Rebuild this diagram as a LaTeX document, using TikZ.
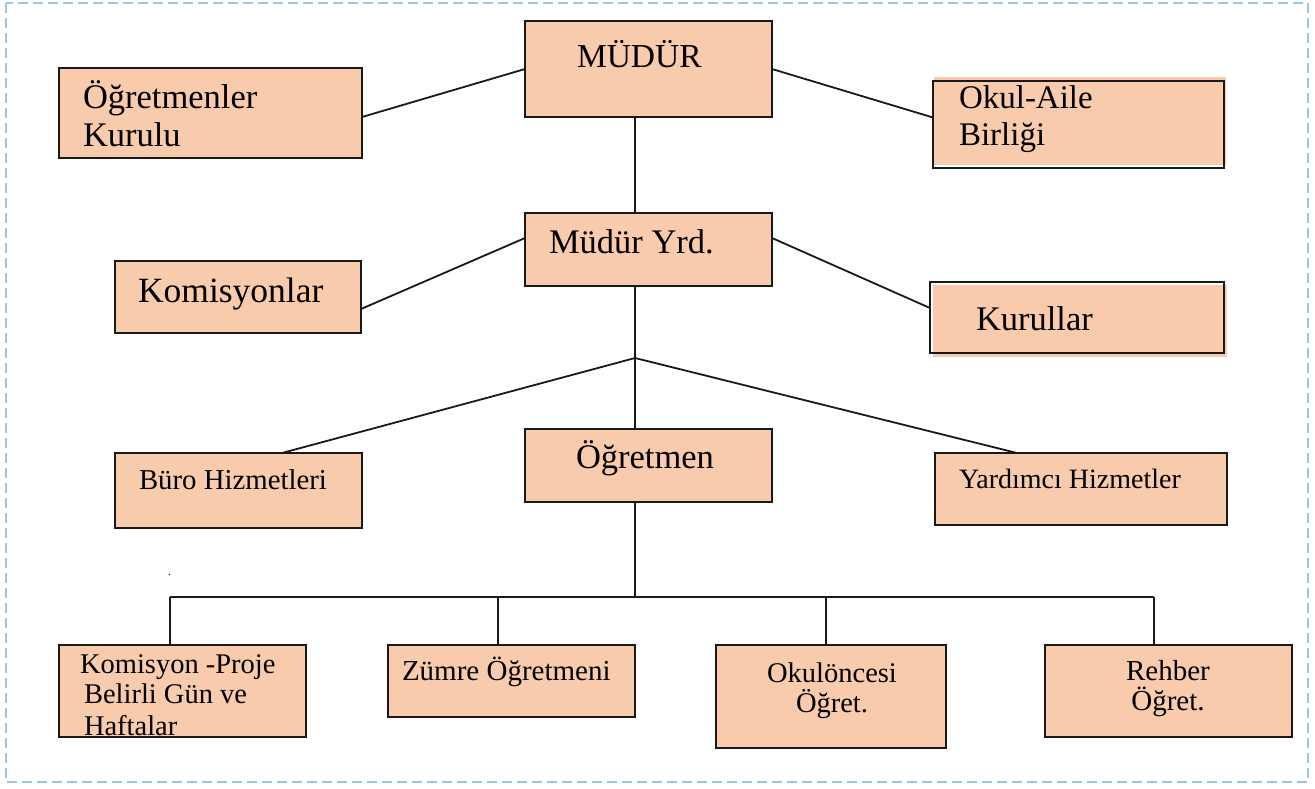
\documentclass[tikz,border=0pt]{standalone}
\usepackage{fontspec}
\setmainfont{Liberation Serif}
\usetikzlibrary{calc}
\definecolor{peach}{HTML}{F7CBAC}
\definecolor{frameblue}{HTML}{9DC3E6}
\newcommand\fsz[1]{\fontsize{#1}{#1}\selectfont}
\begin{document}
\begin{tikzpicture}[x=1pt,y=-1pt,
  orgbox/.style={draw=black!90, fill=peach, line width=2pt, inner sep=0pt, outer sep=0pt, rectangle},
  conn/.style={line width=1.8pt, black!90},
  lt/.style={anchor=base west, inner sep=0pt, outer sep=0pt},
  ct/.style={anchor=base, inner sep=0pt, outer sep=0pt},
  frame/.style={draw=frameblue, line width=2.5pt, dash pattern=on 10pt off 5pt}]
\useasboundingbox (0,0) rectangle (1315,788);
\draw[frame] (6,3) rectangle (1308,782);

% fill quirks (offset fills)
\fill[peach] (934,77) rectangle (1226,165);
\fill[peach] (933,285) rectangle (1227,357);

% boxes
\node[orgbox, minimum width=247pt, minimum height=96pt] (mudur) at (648.5,69) {};
\node[orgbox, minimum width=303pt, minimum height=90pt] (ogk) at (210.5,113) {};
\node[orgbox, minimum width=291pt, minimum height=87pt, fill=none] (okul) at (1078.5,124.5) {};
\node[orgbox, minimum width=247pt, minimum height=73pt] (myrd) at (648.5,249.5) {};
\node[orgbox, minimum width=246pt, minimum height=72pt] (komis) at (238,297) {};
\node[orgbox, minimum width=294pt, minimum height=71pt, fill=none] (kurul) at (1077,317.5) {};
\node[orgbox, minimum width=247pt, minimum height=75pt] (buro) at (238.5,490.5) {};
\node[orgbox, minimum width=247pt, minimum height=73pt] (ogr) at (648.5,465.5) {};
\node[orgbox, minimum width=292pt, minimum height=72pt] (yard) at (1081,489) {};
\node[orgbox, minimum width=247pt, minimum height=92pt] (kp) at (182.5,691) {};
\node[orgbox, minimum width=247pt, minimum height=72pt] (zum) at (511.5,681) {};
\node[orgbox, minimum width=230pt, minimum height=103pt] (okon) at (831,696.5) {};
\node[orgbox, minimum width=247pt, minimum height=92pt] (reh) at (1168.5,691) {};

% texts
\node[lt, font=\fsz{33.5}] (tmudur) at (577,67) {MÜDÜR};
\node[lt, font=\fsz{34.5}] (togk1) at (83,108) {Öğretmenler};
\node[lt, font=\fsz{34.5}] (togk2) at (83,146) {Kurulu};
\node[lt, font=\fsz{33}] (tokul1) at (959,108) {Okul-Aile};
\node[lt, font=\fsz{33}] (tokul2) at (959,145) {Birliği};
\node[lt, font=\fsz{34.5}] (tmyrd) at (549,253) {Müdür Yrd.};
\node[lt, font=\fsz{35.5}] (tkomis) at (138,302) {Komisyonlar};
\node[lt, font=\fsz{34.5}] (tkurul) at (976,330) {Kurullar};
\node[lt, font=\fsz{34.5}] (togr) at (576,468) {Öğretmen};
\node[lt, font=\fsz{28.8}] (tburo) at (139,489) {Büro Hizmetleri};
\node[lt, font=\fsz{28}] (tyard) at (959,488) {Yardımcı Hizmetler};
\node[lt, font=\fsz{28.5}] (tkp1) at (80,673) {Komisyon -Proje};
\node[lt, font=\fsz{28.5}] (tkp2) at (84,703) {Belirli Gün ve};
\node[lt, font=\fsz{28.5}] (tkp3) at (84,735) {Haftalar};
\node[lt, font=\fsz{29}] (tzum) at (402,680) {Zümre Öğretmeni};
\node[ct, font=\fsz{28.5}] (tokon1) at (832,682) {Okulöncesi};
\node[ct, font=\fsz{28.5}] (tokon2) at (832,712) {Öğret.};
\node[ct, font=\fsz{29}] (treh1) at (1168,680) {Rehber};
\node[ct, font=\fsz{29}] (treh2) at (1168,710) {Öğret.};
\node[lt, font=\fsz{12}] (dot) at (168,575) {.};

% connectors
\coordinate (spine) at (635,0);
\coordinate (junc) at (635,358);
\coordinate (bus) at (635,597);
\coordinate (busL) at (170,597);
\coordinate (busR) at (1154,597);
\coordinate (d2) at (498,597);
\coordinate (d3) at (826,597);

\draw[conn] (mudur.west) -- ($(ogk.east)+(0,4)$);
\draw[conn] (mudur.east) -- ($(okul.west)+(0,-7)$);
\draw[conn] (mudur.south -| spine) -- (myrd.north -| spine);
\draw[conn] ($(myrd.west)+(0,-11.5)$) -- ($(komis.east)+(0,12)$);
\draw[conn] ($(myrd.east)+(0,-11.5)$) -- ($(kurul.west)+(0,-9.5)$);
\draw[conn] (myrd.south -| spine) -- (junc);
\draw[conn] (junc) -- ($(buro.north)+(43.5,0)$);
\draw[conn] (junc) -- ($(yard.north)+(-64,0)$);
\draw[conn] (junc) -- (ogr.north -| spine);
\draw[conn] (ogr.south -| spine) -- (bus);
\draw[conn] (busL) -- (busR);
\draw[conn] (busL) -- (busL |- kp.north);
\draw[conn] (d2) -- (d2 |- zum.north);
\draw[conn] (d3) -- (d3 |- okon.north);
\draw[conn] (busR) -- (busR |- reh.north);
\end{tikzpicture}
\end{document}
